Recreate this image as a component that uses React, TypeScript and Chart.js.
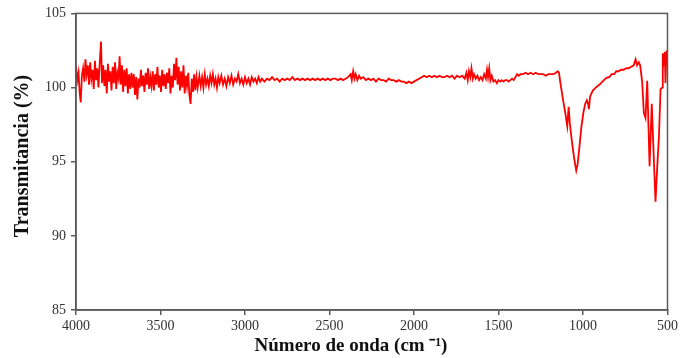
import React, { useEffect, useRef } from "react";
import { Chart, registerables } from "chart.js";

Chart.register(...registerables);

// Wavenumber (cm-1) and transmittance (%)
const waveNumbers: number[] = [
  4000, 3992, 3985, 3978, 3972, 3965, 3958, 3950, 3944, 3937, 3930, 3923, 3916, 3909, 3902, 3895,
  3888, 3881, 3874, 3867, 3860, 3852, 3846, 3839, 3832, 3825, 3818, 3811, 3804, 3797, 3790, 3783,
  3776, 3769, 3762, 3755, 3748, 3742, 3735, 3728, 3721, 3714, 3707, 3700, 3693, 3686, 3679, 3672,
  3665, 3658, 3651, 3644, 3637, 3630, 3623, 3616, 3609, 3602, 3595, 3588, 3581, 3574, 3567, 3560,
  3553, 3546, 3539, 3532, 3525, 3518, 3511, 3504, 3497, 3490, 3483, 3476, 3469, 3462, 3455, 3448,
  3441, 3434, 3427, 3420, 3413, 3406, 3399, 3392, 3385, 3378, 3371, 3364, 3357, 3350, 3343, 3336,
  3329, 3322, 3315, 3308, 3301, 3294, 3287, 3280,
  3270, 3262, 3254, 3246, 3238, 3230, 3222, 3214, 3206, 3198, 3190, 3182, 3174, 3166, 3158, 3150,
  3140, 3130, 3120, 3110, 3100, 3090, 3080, 3070, 3060, 3050, 3040, 3030, 3020, 3010, 3000, 2990,
  2980, 2970, 2960, 2950, 2940, 2930, 2920, 2910, 2900,
  2885, 2870, 2855, 2840, 2825, 2810, 2795, 2780, 2765, 2750, 2735, 2720, 2705, 2690, 2675, 2660,
  2645, 2630, 2615, 2600, 2585, 2570, 2555, 2540, 2525, 2510, 2495, 2480, 2465, 2450, 2435, 2420,
  2405, 2390, 2375, 2368, 2360, 2352, 2345, 2335, 2325, 2315, 2300, 2285, 2270, 2255, 2240, 2225,
  2210, 2195, 2180, 2165, 2150, 2135, 2120, 2105, 2090, 2075, 2060, 2045, 2030, 2015, 2000, 1985,
  1970, 1955, 1940, 1925, 1910, 1895, 1880, 1865, 1850, 1835, 1820, 1805, 1790, 1775, 1760, 1745,
  1730, 1715, 1700, 1690, 1682, 1675, 1667, 1660, 1652, 1645, 1635, 1625, 1615, 1605, 1595, 1585,
  1575, 1568, 1562, 1555, 1548, 1540, 1530, 1520, 1510, 1500, 1490, 1480, 1470, 1460, 1450, 1440,
  1430, 1420, 1410, 1400, 1390, 1380, 1370, 1355, 1340, 1325, 1310, 1295, 1280, 1265, 1250, 1235,
  1220, 1205, 1190, 1175, 1160, 1150, 1142, 1135, 1120, 1105, 1093, 1085, 1078, 1065, 1052, 1040,
  1032, 1022, 1010, 998, 987, 977, 970, 965, 958, 942, 925, 902, 885, 862, 845, 830,
  815, 803, 790, 775, 760, 744, 730, 715, 700, 689, 680, 670, 662, 650, 640, 630,
  620, 606, 593, 582, 571, 560, 551, 541, 532, 528, 522, 516, 512, 506,
];

const transmittance: number[] = [
  101.4, 100.5, 101.0, 99.6, 99.0, 100.8, 101.3, 100.4, 101.9, 100.9, 101.5, 100.2, 101.7, 100.6, 101.2, 99.9,
  101.8, 100.5, 101.3, 100.0, 101.6, 103.1, 100.3, 101.5, 100.1, 101.2, 99.6, 101.6, 100.4, 101.1, 99.8, 101.4,
  100.3, 101.7, 99.9, 101.0, 100.6, 102.1, 100.2, 101.5, 99.7, 101.2, 100.1, 101.3, 99.6, 100.9, 99.9, 101.0,
  100.0, 100.9, 99.5, 100.7, 99.2, 100.6, 100.0, 101.2, 100.1, 100.8, 99.7, 101.0, 100.2, 101.3, 99.9, 100.7,
  100.1, 101.1, 99.8, 100.9, 100.2, 101.4, 100.0, 100.8, 99.7, 101.2, 100.1, 100.9, 99.9, 101.0, 100.3, 101.3,
  99.6, 100.8, 100.0, 101.6, 100.5, 102.0, 100.2, 101.4, 99.8, 101.1, 100.0, 101.5, 99.6, 100.8, 100.1, 101.0,
  99.5, 98.9, 100.6, 99.7, 100.9, 99.8, 100.7, 100.0,
  100.8, 100.1, 100.7, 100.0, 100.9, 100.2, 100.6, 100.1, 100.8, 100.3, 100.9, 100.2, 100.6, 100.0, 100.7, 100.3,
  100.8, 100.2, 100.6, 100.1, 100.7, 100.3, 100.8, 100.2, 100.6, 100.4, 100.9, 100.3, 100.6, 100.2, 100.7, 100.3,
  100.6, 100.2, 100.7, 100.4, 100.6, 100.3, 100.7, 100.4, 100.6,
  100.4, 100.6, 100.5, 100.7, 100.5, 100.6, 100.4, 100.6, 100.5, 100.6, 100.5, 100.7, 100.5, 100.6, 100.5, 100.6,
  100.5, 100.6, 100.5, 100.6, 100.5, 100.6, 100.5, 100.6, 100.5, 100.6, 100.5, 100.6, 100.6, 100.5, 100.6, 100.5,
  100.6, 100.7, 100.9, 100.5, 101.1, 100.6, 100.9, 100.5, 100.8, 100.6, 100.7, 100.5, 100.6, 100.5, 100.6, 100.4,
  100.6, 100.5, 100.5, 100.4, 100.6, 100.5, 100.5, 100.4, 100.5, 100.4, 100.4, 100.3, 100.4, 100.3, 100.4, 100.5,
  100.6, 100.7, 100.8, 100.7, 100.8, 100.7, 100.8, 100.7, 100.8, 100.7, 100.7, 100.8, 100.7, 100.8, 100.6, 100.8,
  100.7, 100.8, 100.6, 101.0, 100.5, 101.1, 100.7, 101.3, 100.6, 100.9, 100.6, 100.8, 100.5, 100.7, 100.5, 100.9,
  100.6, 101.2, 100.7, 101.3, 100.5, 100.8, 100.4, 100.5, 100.3, 100.5, 100.4, 100.5, 100.4, 100.5, 100.5, 100.4,
  100.5, 100.6, 100.5, 100.7, 100.9, 100.8, 100.9, 100.9, 101.0, 100.9, 101.0, 100.9, 101.0, 100.9, 100.9, 100.9,
  100.8, 100.9, 100.9, 100.9, 101.0, 101.1, 101.0, 100.4, 99.3, 98.3, 97.4, 98.7, 97.6, 96.3, 95.2, 94.4,
  94.8, 95.9, 97.3, 98.3, 98.9, 99.15, 98.9, 98.55, 99.4, 99.8, 100.0, 100.2, 100.4, 100.65, 100.7, 100.9,
  100.9, 101.1, 101.1, 101.2, 101.2, 101.3, 101.3, 101.4, 101.5, 101.9, 101.5, 101.7, 101.5, 100.4, 98.3, 97.95,
  100.45, 94.7, 98.9, 95.5, 92.3, 94.8, 96.6, 99.9, 100.0, 102.3, 101.8, 102.4, 100.3, 102.5,
];

const xTicks: number[] = [4000, 3500, 3000, 2500, 2000, 1500, 1000, 500];
const yTicks: number[] = [85, 90, 95, 100, 105];

const X_TITLE = "Número de onda (cm ⁻¹)";
const Y_TITLE = "Transmitancia (%)";

const AXIS_COLOR = "#5a5a5a";
const FONT_FAMILY = "'Liberation Serif', 'Times New Roman', serif";

const framePlugin = {
  id: "frame",
  afterDraw(chart: any) {
    const { ctx, chartArea } = chart;
    ctx.save();
    ctx.strokeStyle = AXIS_COLOR;
    ctx.lineWidth = 1.5;
    ctx.strokeRect(chartArea.left, chartArea.top, chartArea.right - chartArea.left, chartArea.bottom - chartArea.top);
    // axis titles
    ctx.fillStyle = "#111";
    ctx.textAlign = "center";
    ctx.textBaseline = "middle";
    ctx.font = `bold 19px ${FONT_FAMILY}`;
    ctx.fillText(X_TITLE, 351, 346);
    ctx.translate(23, 156);
    ctx.rotate(-Math.PI / 2);
    ctx.font = `bold 20px ${FONT_FAMILY}`;
    ctx.fillText(Y_TITLE, 0, 0);
    ctx.restore();
  },
};

export default function App() {
  const canvasRef = useRef<HTMLCanvasElement | null>(null);

  useEffect(() => {
    if (!canvasRef.current) return;
    const points = waveNumbers.map((x, i) => ({ x, y: transmittance[i] }));
    const chart = new Chart(canvasRef.current, {
      type: "line",
      data: {
        datasets: [
          {
            data: points,
            borderColor: "#ff0000",
            borderWidth: 1.8,
            pointRadius: 0,
            tension: 0,
            fill: false,
          },
        ],
      },
      options: {
        animation: false,
        responsive: true,
        maintainAspectRatio: false,
        layout: { padding: { top: 12, right: 13, left: 0, bottom: 0 } },
        plugins: { legend: { display: false }, tooltip: { enabled: false } },
        scales: {
          x: {
            type: "linear",
            reverse: true,
            min: 500,
            max: 4000,
            afterBuildTicks: (scale: any) => {
              scale.ticks = xTicks.map((v) => ({ value: v }));
            },
            afterFit: (scale: any) => {
              scale.height = 48;
            },
            grid: { display: true, drawOnChartArea: false, drawTicks: true, tickLength: 5, color: AXIS_COLOR, lineWidth: 1.5 },
            border: { display: true, color: AXIS_COLOR, width: 1.5 },
            ticks: {
              color: "#333",
              padding: 3,
              maxRotation: 0,
              autoSkip: false,
              callback: (v: any) => String(v),
              font: { family: FONT_FAMILY, size: 14 },
            },
            title: { display: false },
          },
          y: {
            type: "linear",
            min: 85,
            max: 105,
            afterBuildTicks: (scale: any) => {
              scale.ticks = yTicks.map((v) => ({ value: v }));
            },
            afterFit: (scale: any) => {
              scale.width = 76;
            },
            grid: { display: true, drawOnChartArea: false, drawTicks: true, tickLength: 5, color: AXIS_COLOR, lineWidth: 1.5 },
            border: { display: true, color: AXIS_COLOR, width: 1.5 },
            ticks: {
              color: "#333",
              padding: 5,
              autoSkip: false,
              callback: (v: any) => String(v),
              font: { family: FONT_FAMILY, size: 14 },
            },
            title: { display: false },
          },
        },
      },
      plugins: [framePlugin],
    });
    return () => chart.destroy();
  }, []);

  return (
    <div style={{ position: "absolute", left: 0, top: 0, width: 681, height: 358, background: "#fff" }}>
      <canvas ref={canvasRef} />
    </div>
  );
}
